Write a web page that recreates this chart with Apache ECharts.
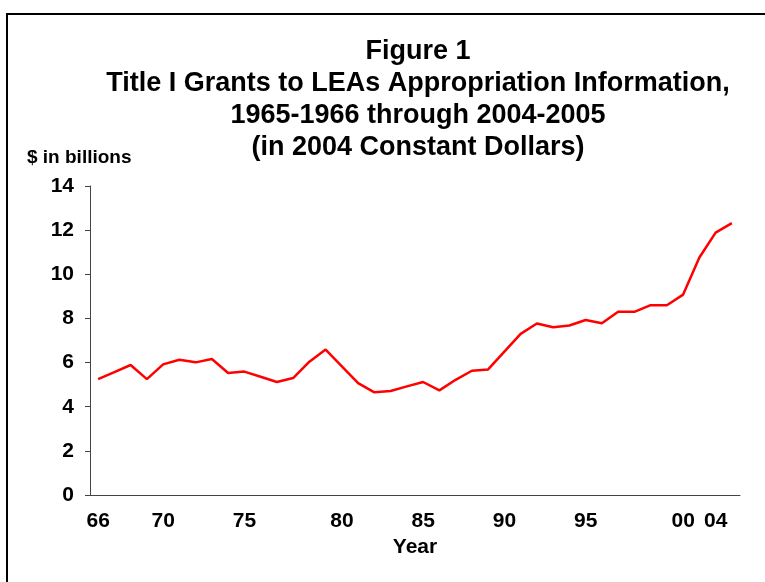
<!DOCTYPE html>
<html>
<head>
<meta charset="utf-8">
<script src="https://cdn.jsdelivr.net/npm/echarts@6/dist/echarts.min.js"></script>
<style>
  html, body { margin: 0; padding: 0; background: #fff; }
  #chart { width: 765px; height: 582px; }
</style>
</head>
<body>
<div id="chart"></div>
<script>
// Фискальные годы 1966..2005 (40 точек), подписи только у некоторых
const tickLabels = [
  '66', '', '', '', '70', '', '', '', '', '75',
  '', '', '', '', '', '80', '', '', '', '',
  '85', '', '', '', '', '90', '', '', '', '',
  '95', '', '', '', '', '', '00', '', '04', ''
];

// Ассигнования, млрд долларов (в ценах 2004 года)
const grants = [
  5.25, 5.57, 5.89, 5.25, 5.92, 6.13, 6.01, 6.16, 5.53, 5.59,
  5.36, 5.12, 5.30, 6.04, 6.59, 5.83, 5.07, 4.65, 4.71, 4.92,
  5.12, 4.74, 5.22, 5.63, 5.69, 6.50, 7.30, 7.77, 7.60, 7.68,
  7.93, 7.78, 8.30, 8.30, 8.60, 8.60, 9.08, 10.76, 11.89, 12.32
];

const titleLines = [
  'Figure 1',
  'Title I Grants to LEAs Appropriation Information,',
  '1965-1966 through 2004-2005',
  '(in 2004 Constant Dollars)'
];

const font = '"Liberation Sans", Arial, sans-serif';
const chart = echarts.init(document.getElementById('chart'));

const option = {
  backgroundColor: '#fff',
  animation: false,
  title: {
    text: titleLines.join('\n'),
    left: 413,
    top: 31,
    textAlign: 'center',
    textStyle: {
      fontFamily: font,
      fontSize: 27,
      fontWeight: 'bold',
      lineHeight: 32,
      color: '#000'
    }
  },
  graphic: [
    {
      type: 'rect',
      shape: { x: 7, y: 14, width: 800, height: 600 },
      style: { fill: 'none', stroke: '#000', lineWidth: 2 }
    },
    {
      type: 'text',
      left: 27,
      top: 148,
      style: {
        text: '$ in billions',
        fontFamily: font,
        fontSize: 19,
        fontWeight: 'bold',
        fill: '#000'
      }
    }
  ],
  grid: { left: 90, right: 25, top: 186, bottom: 87 },
  xAxis: {
    type: 'category',
    data: tickLabels,
    boundaryGap: true,
    name: 'Year',
    nameLocation: 'middle',
    nameGap: 42,
    nameTextStyle: { fontFamily: font, fontSize: 21, fontWeight: 'bold', color: '#000' },
    axisLine: { lineStyle: { color: '#444', width: 1 } },
    axisTick: { show: false },
    axisLabel: {
      interval: 0,
      margin: 16,
      fontFamily: font,
      fontSize: 21,
      fontWeight: 'bold',
      color: '#000'
    },
    splitLine: { show: false }
  },
  yAxis: {
    type: 'value',
    min: 0,
    max: 14,
    interval: 2,
    axisLine: { show: true, lineStyle: { color: '#444', width: 1 } },
    axisTick: { show: true, length: 5, lineStyle: { color: '#444' } },
    axisLabel: {
      margin: 16,
      fontFamily: font,
      fontSize: 21,
      fontWeight: 'bold',
      color: '#000'
    },
    splitLine: { show: false }
  },
  series: [{
    type: 'line',
    data: grants,
    showSymbol: false,
    lineStyle: { color: '#ff0000', width: 2.5 }
  }]
};

chart.setOption(option);
</script>
</body>
</html>
